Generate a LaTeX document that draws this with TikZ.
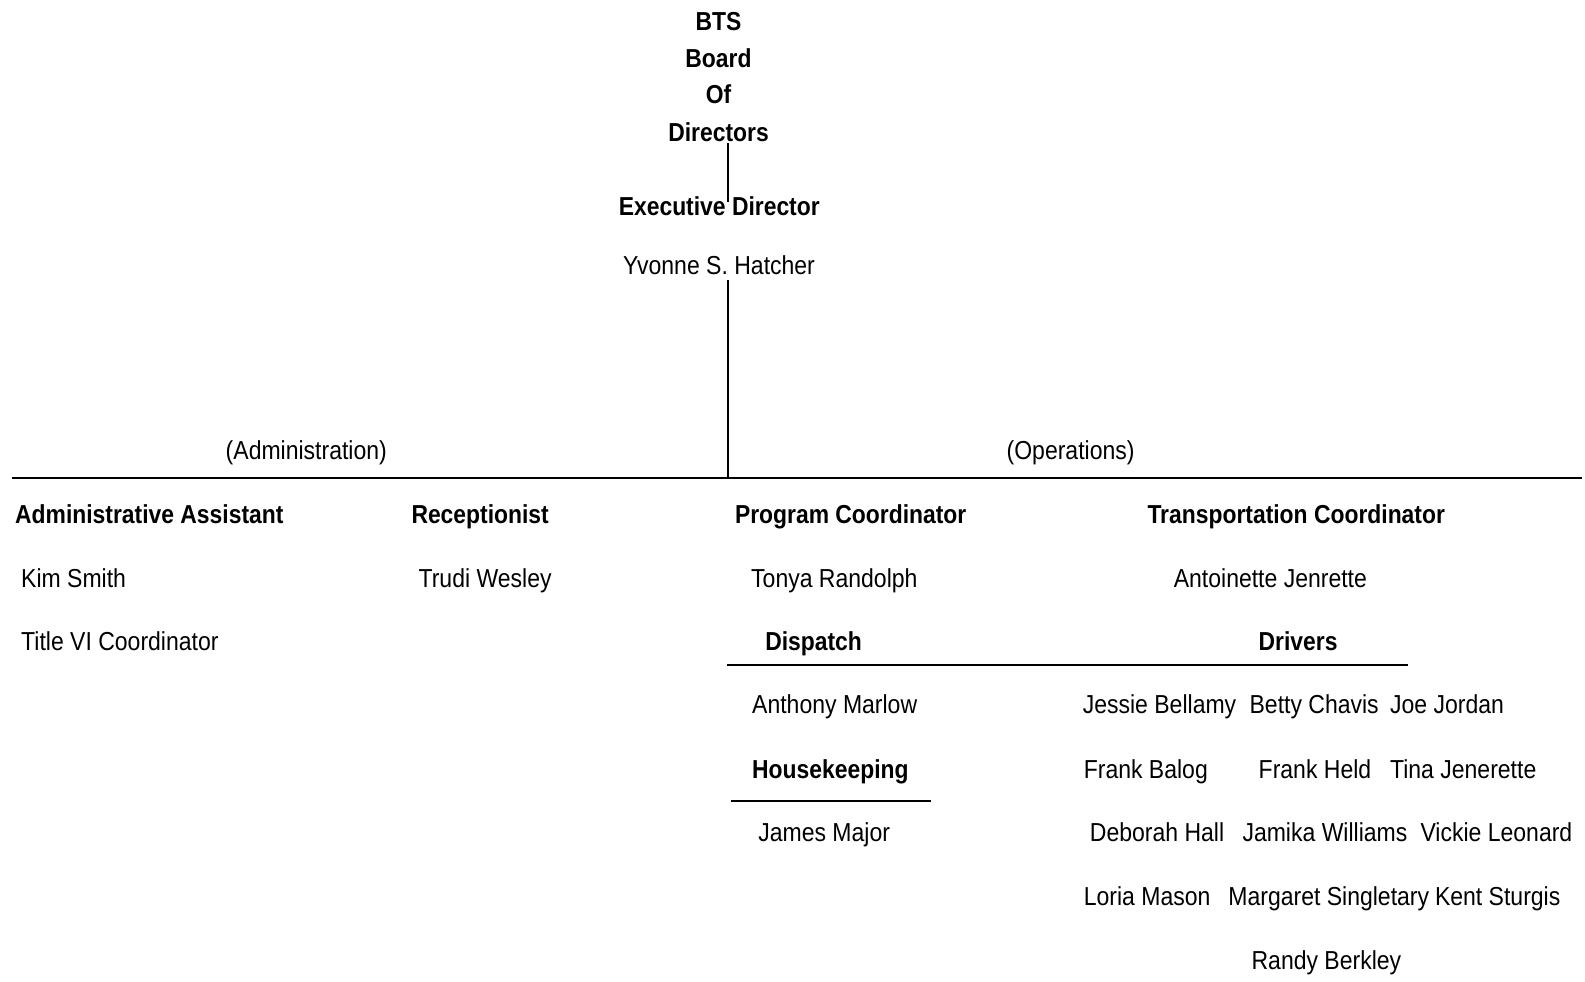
\documentclass[tikz,border=0pt]{standalone}
\usepackage{fontspec}
\setmainfont{Liberation Sans}[FakeStretch=0.885, BoldFeatures={FakeStretch=0.88}]
\begin{document}
\begin{tikzpicture}[x=0.5pt,y=-0.5pt,
  every node/.style={inner sep=0pt, outer sep=0pt, font=\fontsize{13pt}{18.5pt}\selectfont},
  nm/.style={anchor=base west},
  hd/.style={anchor=base west, font=\fontsize{13pt}{18.5pt}\selectfont\bfseries},
  ttl/.style={anchor=base, font=\fontsize{13pt}{18.5pt}\selectfont\bfseries},
  rule/.style={line width=1pt}]
\useasboundingbox (0,0) rectangle (1585,981);
% top
\node[ttl] (btsa) at (718.5,30.2) {BTS};
\node[ttl] (btsb) at (718.5,67.6) {Board};
\node[ttl] (btsc) at (718.5,103) {Of};
\node[ttl] (board) at (718.5,141.4) {Directors};
\node[ttl] (exec) at (719.3,215.2) {Executive Director};
\node[anchor=base] (ysh) at (719,274.9) {Yvonne S. Hatcher};
% division labels
\node[anchor=base] (adm) at (306.3,459.9) {(Administration)};
\node[anchor=base] (ops) at (1070.6,459.9) {(Operations)};
% main rules
\coordinate (hl) at (12,477.7);
\coordinate (hr) at (1582,477.7);
\coordinate (spine) at (727.7,477.7);
\coordinate (t1) at (727.7,143);
\coordinate (t2) at (727.7,202);
\coordinate (t3) at (727.7,280);
\draw[rule] (hl) -- (hr);
\draw[rule] (t1) -- (t2);
\draw[rule] (t3) -- (spine);
% headers
\node[hd] (aa) at (15.2,523.6) {Administrative Assistant};
\node[hd] (rc) at (411.5,523.6) {Receptionist};
\node[hd] (pc) at (735,523.6) {Program Coordinator};
\node[hd] (tc) at (1147.5,523.6) {Transportation Coordinator};
% names row
\node[nm] (ks) at (21.2,587.3) {Kim Smith};
\node[nm] (tw) at (418.6,587.3) {Trudi Wesley};
\node[nm] (tr) at (751.2,587.3) {Tonya Randolph};
\node[nm] (aj) at (1173.8,587.3) {Antoinette Jenrette};
\node[nm] (t6) at (21.2,650) {Title VI Coordinator};
\node[hd] (dp) at (765.3,650) {Dispatch};
\node[hd] (dr) at (1258.7,650) {Drivers};
\coordinate (d1) at (727,664.5);
\coordinate (d2) at (1408,664.5);
\draw[rule] (d1) -- (d2);
\node[nm] (am) at (752.2,713.7) {Anthony Marlow};
\node[hd] (hk) at (752.2,778.4) {Housekeeping};
\coordinate (k1) at (731,800.7);
\coordinate (k2) at (931,800.7);
\draw[rule] (k1) -- (k2);
\node[nm] (jm) at (758.3,841.1) {James Major};
% drivers
\node[nm] (d11) at (1082.8,713.7) {Jessie Bellamy};
\node[nm] (d12) at (1249.6,713.7) {Betty Chavis};
\node[nm] (d13) at (1390.1,713.7) {Joe Jordan};
\node[nm] (d21) at (1083.8,778.4) {Frank Balog};
\node[nm] (d22) at (1258.7,778.4) {Frank Held};
\node[nm] (d23) at (1390.1,778.4) {Tina Jenerette};
\node[nm] (d31) at (1089.9,841.1) {Deborah Hall};
\node[nm] (d32) at (1242.5,841.1) {Jamika Williams};
\node[nm] (d33) at (1420.5,841.1) {Vickie Leonard};
\node[nm] (d41) at (1083.8,905.8) {Loria Mason};
\node[nm] (d42) at (1228.4,905.8) {Margaret Singletary};
\node[nm] (d43) at (1435,905.8) {Kent Sturgis};
\node[nm] (d51) at (1251.6,969.5) {Randy Berkley};
\end{tikzpicture}
\end{document}
